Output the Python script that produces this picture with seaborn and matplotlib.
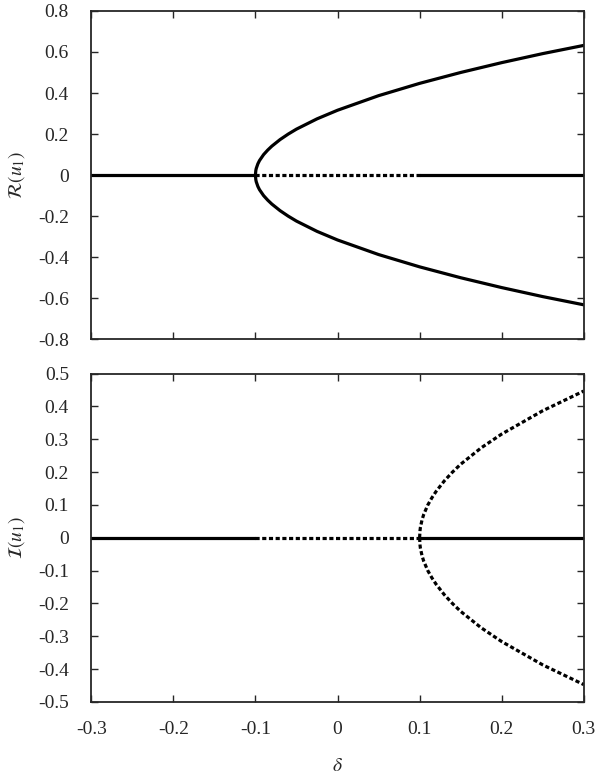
import numpy as np
import pandas as pd
import matplotlib
matplotlib.use("Agg")
import matplotlib.pyplot as plt
from matplotlib.ticker import FuncFormatter
import seaborn as sns

# zero-solution segments (delta ranges)
stable_left = [-0.3, -0.1]
unstable_mid = [-0.1, 0.1]
stable_right = [0.1, 0.3]
zero_y = [0.0, 0.0]

re_delta = [-0.1, -0.0995, -0.099, -0.097, -0.095, -0.09, -0.085, -0.08, -0.07, -0.06,
            -0.05, -0.025, 0.0, 0.05, 0.1, 0.15, 0.2, 0.25, 0.3]
re_upper = [0.0, 0.022, 0.032, 0.055, 0.071, 0.1, 0.122, 0.141, 0.173, 0.2,
            0.224, 0.274, 0.316, 0.387, 0.447, 0.5, 0.548, 0.592, 0.632]
re_lower = [-v for v in re_upper]

# imaginary branch
im_delta = [0.1, 0.1005, 0.101, 0.103, 0.105, 0.11, 0.115, 0.12, 0.13, 0.14,
            0.15, 0.175, 0.2, 0.25, 0.3]
im_upper = [0.0, 0.022, 0.032, 0.055, 0.071, 0.1, 0.122, 0.141, 0.173, 0.2,
            0.224, 0.274, 0.316, 0.387, 0.447]
im_lower = [-v for v in im_upper]

sns.set_style("ticks")
plt.rcParams['font.family'] = 'serif'
plt.rcParams['font.serif'] = ['Liberation Serif', 'DejaVu Serif']
plt.rcParams['mathtext.fontset'] = 'stix'
plt.rcParams['axes.unicode_minus'] = False

lw = 2.3
dots = (0, (1.3, 0.8))

fig = plt.figure(figsize=(6, 7.8), dpi=100)
ax1 = fig.add_axes([0.152, 0.565, 0.821, 0.421])
ax2 = fig.add_axes([0.152, 0.100, 0.821, 0.421])

def seg(ax, x, y, style):
    sns.lineplot(x=x, y=y, ax=ax, color='black', linewidth=lw, sort=False,
                 estimator=None, linestyle=style)
    return ax

# top panel
seg(ax1, stable_left, zero_y, '-')
seg(ax1, unstable_mid, zero_y, dots)
seg(ax1, stable_right, zero_y, '-')
seg(ax1, re_delta, re_upper, '-')
seg(ax1, re_delta, re_lower, '-')

# bottom panel
seg(ax2, stable_left, zero_y, '-')
seg(ax2, unstable_mid, zero_y, dots)
seg(ax2, stable_right, zero_y, '-')
seg(ax2, im_delta, im_upper, dots)
seg(ax2, im_delta, im_lower, dots)

fmt = FuncFormatter(lambda v, p: '%g' % (round(v, 3) + 0.0))

for ax in (ax1, ax2):
    ax.set_xlim(-0.3, 0.3)
    ax.set_xticks(np.arange(-0.3, 0.31, 0.1))
    ax.xaxis.set_major_formatter(fmt)
    ax.yaxis.set_major_formatter(fmt)
    ax.tick_params(direction='in', top=True, right=True, length=5, width=1,
                   labelsize=14)
    ax.tick_params(axis='y', pad=16)
    ax.tick_params(axis='x', pad=14)
    for s in ax.spines.values():
        s.set_linewidth(1.3)
        s.set_visible(True)

ax1.set_ylim(-0.8, 0.8)
ax1.set_yticks(np.arange(-0.8, 0.81, 0.2))
ax1.tick_params(labelbottom=False)
ax1.set_ylabel(r'$\mathcal{R}(u_1)$', fontsize=14, labelpad=8)

ax2.set_ylim(-0.5, 0.5)
ax2.set_yticks(np.arange(-0.5, 0.51, 0.1))
ax2.set_ylabel(r'$\mathcal{I}(u_1)$', fontsize=14, labelpad=8)
ax2.set_xlabel(r'$\delta$', fontsize=14, labelpad=14)

plt.savefig("out.png", dpi=100)
plt.close()
